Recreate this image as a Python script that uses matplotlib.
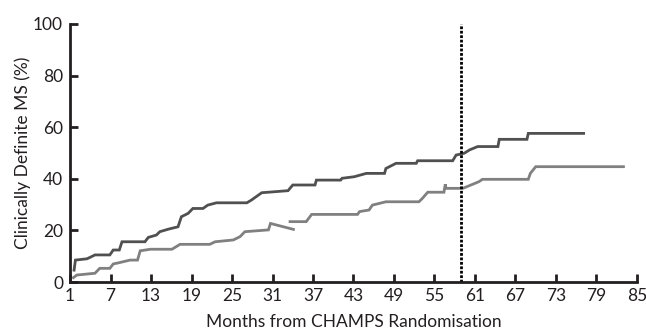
import numpy as np
import matplotlib
matplotlib.use("Agg")
import matplotlib.pyplot as plt

# months from randomisation vs cumulative % with clinically definite MS
dark_months = [1.6, 1.8, 3.5, 4.0, 4.7, 6.9, 7.4, 8.3, 8.7, 12.1, 12.6, 13.8, 14.3, 15.6,
               17.0, 17.5, 18.5, 19.2, 20.7, 21.4, 22.7, 27.2, 27.9, 29.4, 33.3, 34.0,
               37.3, 37.5, 41.1, 41.3, 43.1, 44.9, 47.6, 47.8, 49.3, 52.3, 52.5, 57.7,
               58.2, 59.4, 60.2, 61.4, 64.4, 64.6, 68.7, 68.9, 77.1]
dark_pct = [4.6, 8.5, 9.0, 9.6, 10.5, 10.5, 12.4, 12.4, 15.6, 15.6, 17.3, 18.2, 19.5, 20.5,
            21.4, 25.3, 26.6, 28.5, 28.5, 29.8, 30.7, 30.7, 31.8, 34.6, 35.4, 37.6,
            37.6, 39.5, 39.5, 40.2, 40.8, 42.1, 42.1, 44.0, 46.0, 46.0, 47.0, 47.0,
            49.2, 49.9, 51.2, 52.5, 52.5, 55.3, 55.3, 57.6, 57.6]

light_months = [1.5, 2.0, 4.7, 5.4, 6.9, 7.4, 8.3, 9.9, 11.0, 11.4, 12.9, 16.1, 17.3, 21.7,
                22.5, 25.2, 26.2, 26.9, 30.4, 30.7, 34.1, np.nan, 33.6, 36.0, 36.8, 43.6,
                43.9, 45.3, 45.8, 47.8, 52.7, 53.2, 54.0, 56.4, 56.6, 56.7, 59.2, 60.4,
                61.6, 62.1, 68.9, 69.2, 70.0, 83.0]
light_pct = [1.7, 2.7, 3.4, 5.3, 5.3, 7.0, 7.5, 8.5, 8.5, 12.1, 12.7, 12.7, 14.6, 14.6,
             15.6, 16.3, 17.6, 19.5, 20.2, 22.7, 20.4, np.nan, 23.4, 23.4, 26.2, 26.2,
             27.3, 27.9, 29.8, 31.1, 31.1, 32.4, 34.8, 34.8, 37.9, 36.3, 36.3, 37.6,
             38.9, 39.8, 39.8, 42.1, 44.7, 44.7]

cutoff_month = 59
x_ticks = list(range(1, 86, 6))
y_ticks = [0, 20, 40, 60, 80, 100]

plt.rcParams['font.family'] = ['Lato', 'DejaVu Sans']

fig = plt.figure(figsize=(6.46, 3.31), dpi=100)
ax = fig.add_axes([0.1084, 0.148, 0.8776, 0.7795])

ax.plot(dark_months, dark_pct, color='#505050', lw=2.0, solid_joinstyle='miter')
ax.plot(light_months, light_pct, color='#808080', lw=2.0, solid_joinstyle='miter')
ax.axvline(cutoff_month, ymin=0, ymax=1, color='black', lw=2, ls=(0, (1, 0.6)))

ax.set_xlim(1, 85)
ax.set_ylim(0, 100)
ax.set_xticks(x_ticks)
ax.set_yticks(y_ticks)
for side in ['top', 'right']:
    ax.spines[side].set_visible(False)
for side in ['left', 'bottom']:
    ax.spines[side].set_linewidth(2)
    ax.spines[side].set_color('#231f20')
ax.tick_params(direction='in', length=6, width=2, color='#231f20', labelsize=12.5,
               labelcolor='#231f20')
ax.tick_params(axis='x', pad=4)
ax.tick_params(axis='y', pad=5)
ax.set_xlabel('Months from CHAMPS Randomisation', fontsize=12.5, color='#231f20', labelpad=7.5)
ax.set_ylabel('Clinically Definite MS (%)', fontsize=12.5, color='#231f20', labelpad=1.5)

fig.savefig('out.png', dpi=100)
